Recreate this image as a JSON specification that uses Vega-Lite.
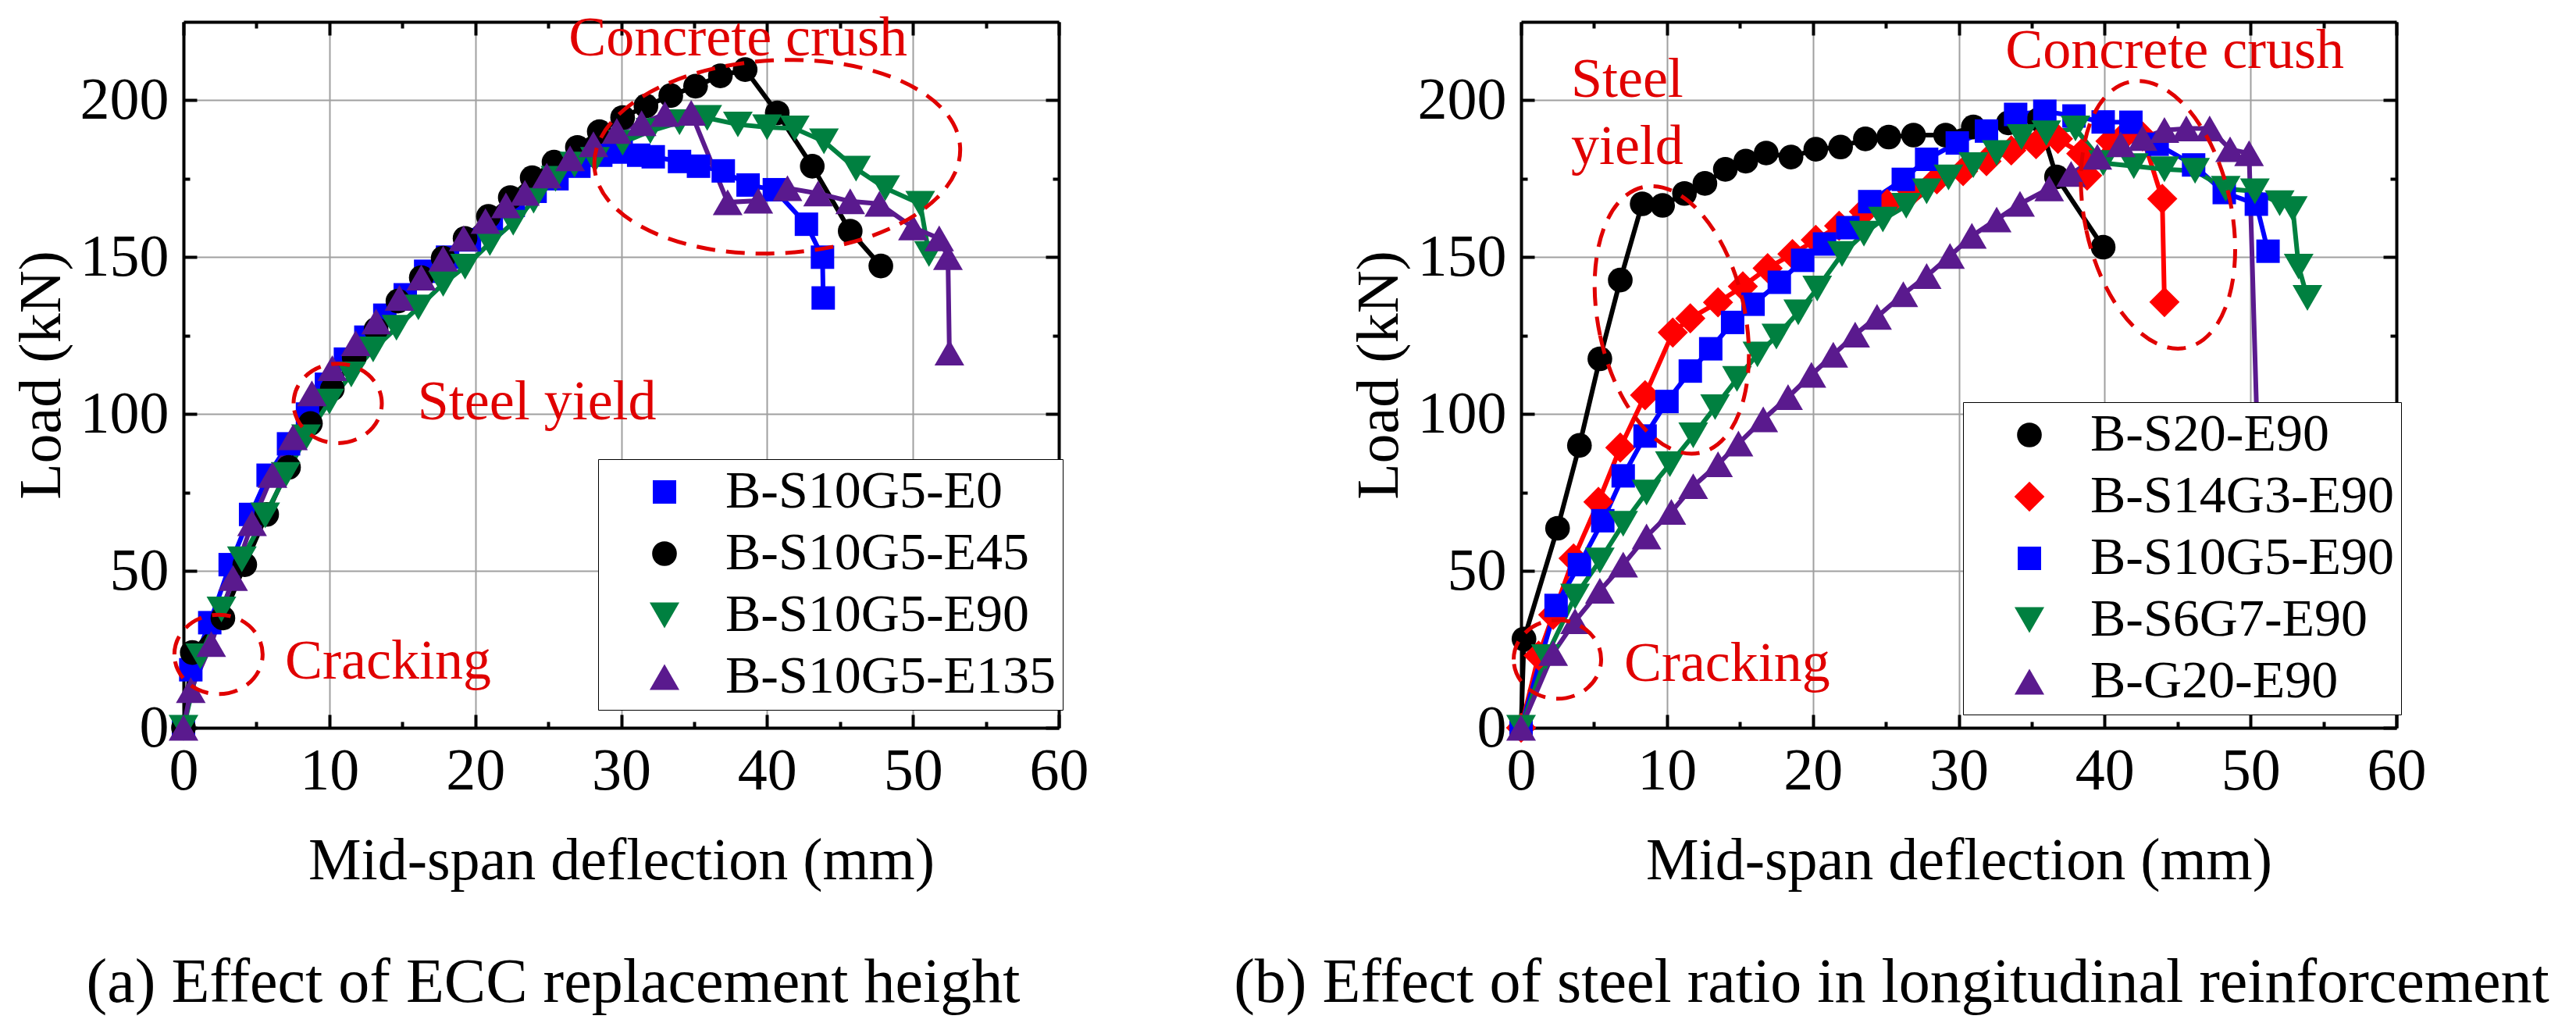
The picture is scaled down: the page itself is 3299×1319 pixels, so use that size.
{
 "$schema": "https://vega.github.io/schema/vega-lite/v6.json",
 "padding": {"left": 15, "top": 12, "right": 5, "bottom": 5},
 "background": "white",
 "spacing": 592,
 "bounds": "flush",
 "resolve": {"scale": {"color": "independent", "stroke": "independent", "shape": "independent", "size": "independent"}, "legend": {"color": "independent", "stroke": "independent", "shape": "independent", "size": "independent"}},
 "config": {
  "view": {"stroke": null},
  "font": "Liberation Serif",
  "legend": {"labelFont": "Liberation Serif", "labelColor": "black"},
  "style": {"guide-label": {"font": "Liberation Serif"}},
  "axis": {"domainColor": "black", "domainWidth": 4, "tickColor": "black", "tickWidth": 4, "labelFont": "Liberation Serif", "labelFontSize": 76, "labelColor": "black", "labelFlush": false, "labelOverlap": false, "titleFont": "Liberation Serif", "titleFontSize": 76, "titleFontWeight": "normal", "titleColor": "black", "gridColor": "#A0A0A0", "gridWidth": 2, "gridOpacity": 1}
 },
 "datasets": {
  "a": [
   {"s":"B-S10G5-E0","d":0,"p":0},{"s":"B-S10G5-E0","d":0.5,"p":18.5},{"s":"B-S10G5-E0","d":1.8,"p":33.5},{"s":"B-S10G5-E0","d":3.2,"p":52},{"s":"B-S10G5-E0","d":4.6,"p":68},{"s":"B-S10G5-E0","d":5.8,"p":80.5},{"s":"B-S10G5-E0","d":7.2,"p":90.5},{"s":"B-S10G5-E0","d":8.5,"p":100},{"s":"B-S10G5-E0","d":9.8,"p":109.5},{"s":"B-S10G5-E0","d":11.1,"p":117.5},{"s":"B-S10G5-E0","d":12.5,"p":124.5},{"s":"B-S10G5-E0","d":13.8,"p":131.5},{"s":"B-S10G5-E0","d":15.2,"p":138},{"s":"B-S10G5-E0","d":16.6,"p":145.5},{"s":"B-S10G5-E0","d":18.1,"p":150},{"s":"B-S10G5-E0","d":19.6,"p":155.5},{"s":"B-S10G5-E0","d":21.1,"p":161},{"s":"B-S10G5-E0","d":22.6,"p":166.5},{"s":"B-S10G5-E0","d":24.1,"p":171},{"s":"B-S10G5-E0","d":25.6,"p":175},{"s":"B-S10G5-E0","d":27.1,"p":179},{"s":"B-S10G5-E0","d":28.6,"p":182.5},{"s":"B-S10G5-E0","d":30,"p":183.5},{"s":"B-S10G5-E0","d":31.2,"p":182.5},{"s":"B-S10G5-E0","d":32.2,"p":182},{"s":"B-S10G5-E0","d":34,"p":180.5},{"s":"B-S10G5-E0","d":35.3,"p":179},{"s":"B-S10G5-E0","d":37,"p":177.5},{"s":"B-S10G5-E0","d":38.7,"p":173},{"s":"B-S10G5-E0","d":40.5,"p":171.5},{"s":"B-S10G5-E0","d":42.7,"p":160.5},{"s":"B-S10G5-E0","d":43.8,"p":150},{"s":"B-S10G5-E0","d":43.85,"p":137},
   {"s":"B-S10G5-E45","d":0,"p":0},{"s":"B-S10G5-E45","d":0.6,"p":24},{"s":"B-S10G5-E45","d":2.7,"p":35},{"s":"B-S10G5-E45","d":4.2,"p":52},{"s":"B-S10G5-E45","d":5.7,"p":68},{"s":"B-S10G5-E45","d":7.2,"p":83},{"s":"B-S10G5-E45","d":8.7,"p":97},{"s":"B-S10G5-E45","d":10.2,"p":108},{"s":"B-S10G5-E45","d":11.7,"p":118},{"s":"B-S10G5-E45","d":13.2,"p":127},{"s":"B-S10G5-E45","d":14.7,"p":136},{"s":"B-S10G5-E45","d":16.3,"p":143.5},{"s":"B-S10G5-E45","d":17.8,"p":149.7},{"s":"B-S10G5-E45","d":19.3,"p":156},{"s":"B-S10G5-E45","d":20.9,"p":163},{"s":"B-S10G5-E45","d":22.4,"p":169},{"s":"B-S10G5-E45","d":23.9,"p":175.3},{"s":"B-S10G5-E45","d":25.4,"p":180.3},{"s":"B-S10G5-E45","d":27,"p":185},{"s":"B-S10G5-E45","d":28.5,"p":190},{"s":"B-S10G5-E45","d":30.1,"p":194.5},{"s":"B-S10G5-E45","d":31.7,"p":198.2},{"s":"B-S10G5-E45","d":33.4,"p":201.5},{"s":"B-S10G5-E45","d":35.1,"p":204.5},{"s":"B-S10G5-E45","d":36.8,"p":207.8},{"s":"B-S10G5-E45","d":38.5,"p":209.8},{"s":"B-S10G5-E45","d":40.7,"p":196},{"s":"B-S10G5-E45","d":43.1,"p":179},{"s":"B-S10G5-E45","d":45.7,"p":158.3},{"s":"B-S10G5-E45","d":47.8,"p":147.2},
   {"s":"B-S10G5-E90","d":0,"p":0},{"s":"B-S10G5-E90","d":1.15,"p":22.8},{"s":"B-S10G5-E90","d":2.6,"p":37.7},{"s":"B-S10G5-E90","d":4,"p":53.7},{"s":"B-S10G5-E90","d":5.6,"p":67.7},{"s":"B-S10G5-E90","d":7,"p":80.6},{"s":"B-S10G5-E90","d":8.4,"p":92.6},{"s":"B-S10G5-E90","d":10,"p":104},{"s":"B-S10G5-E90","d":11.5,"p":112.6},{"s":"B-S10G5-E90","d":13,"p":120.6},{"s":"B-S10G5-E90","d":14.6,"p":127.5},{"s":"B-S10G5-E90","d":16.1,"p":134},{"s":"B-S10G5-E90","d":17.8,"p":141.5},{"s":"B-S10G5-E90","d":19.3,"p":147},{"s":"B-S10G5-E90","d":21,"p":154.5},{"s":"B-S10G5-E90","d":22.6,"p":161},{"s":"B-S10G5-E90","d":24,"p":168},{"s":"B-S10G5-E90","d":25.5,"p":175},{"s":"B-S10G5-E90","d":26.8,"p":179.5},{"s":"B-S10G5-E90","d":28.2,"p":181},{"s":"B-S10G5-E90","d":30.1,"p":186.5},{"s":"B-S10G5-E90","d":32,"p":190.2},{"s":"B-S10G5-E90","d":34,"p":193},{"s":"B-S10G5-E90","d":35.9,"p":194.4},{"s":"B-S10G5-E90","d":38,"p":192.3},{"s":"B-S10G5-E90","d":40,"p":191.4},{"s":"B-S10G5-E90","d":41.9,"p":191},{"s":"B-S10G5-E90","d":43.9,"p":186.9},{"s":"B-S10G5-E90","d":46.1,"p":178.2},{"s":"B-S10G5-E90","d":48.1,"p":172},{"s":"B-S10G5-E90","d":50.5,"p":167},{"s":"B-S10G5-E90","d":51.1,"p":151},
   {"s":"B-S10G5-E135","d":0,"p":0},{"s":"B-S10G5-E135","d":0.5,"p":12},{"s":"B-S10G5-E135","d":1.9,"p":26.7},{"s":"B-S10G5-E135","d":3.4,"p":47.7},{"s":"B-S10G5-E135","d":4.7,"p":65.2},{"s":"B-S10G5-E135","d":6.1,"p":80.6},{"s":"B-S10G5-E135","d":7.5,"p":92.6},{"s":"B-S10G5-E135","d":8.8,"p":106.6},{"s":"B-S10G5-E135","d":10.2,"p":114.6},{"s":"B-S10G5-E135","d":11.8,"p":122.6},{"s":"B-S10G5-E135","d":13.2,"p":129.5},{"s":"B-S10G5-E135","d":14.8,"p":137},{"s":"B-S10G5-E135","d":16.3,"p":143.5},{"s":"B-S10G5-E135","d":17.8,"p":149.5},{"s":"B-S10G5-E135","d":19.2,"p":156},{"s":"B-S10G5-E135","d":20.7,"p":161.5},{"s":"B-S10G5-E135","d":22.1,"p":166.5},{"s":"B-S10G5-E135","d":23.4,"p":170.5},{"s":"B-S10G5-E135","d":24.9,"p":176},{"s":"B-S10G5-E135","d":26.5,"p":181.5},{"s":"B-S10G5-E135","d":28.1,"p":186},{"s":"B-S10G5-E135","d":29.7,"p":190.2},{"s":"B-S10G5-E135","d":31.4,"p":192.7},{"s":"B-S10G5-E135","d":33,"p":195.6},{"s":"B-S10G5-E135","d":34.8,"p":196},{"s":"B-S10G5-E135","d":37.3,"p":167.5},{"s":"B-S10G5-E135","d":39.4,"p":168},{"s":"B-S10G5-E135","d":41.4,"p":172},{"s":"B-S10G5-E135","d":43.5,"p":170.3},{"s":"B-S10G5-E135","d":45.7,"p":167.8},{"s":"B-S10G5-E135","d":47.7,"p":167},{"s":"B-S10G5-E135","d":50,"p":159.5},{"s":"B-S10G5-E135","d":51.8,"p":156},{"s":"B-S10G5-E135","d":52.4,"p":150},{"s":"B-S10G5-E135","d":52.5,"p":119.6}
  ],
  "b": [
   {"s":"B-S20-E90","d":0,"p":0},{"s":"B-S20-E90","d":0.2,"p":28.3},{"s":"B-S20-E90","d":2.5,"p":63.6},{"s":"B-S20-E90","d":4,"p":90},{"s":"B-S20-E90","d":5.4,"p":117.6},{"s":"B-S20-E90","d":6.8,"p":142.7},{"s":"B-S20-E90","d":8.3,"p":167},{"s":"B-S20-E90","d":9.7,"p":166.5},{"s":"B-S20-E90","d":11.2,"p":170.3},{"s":"B-S20-E90","d":12.6,"p":173.5},{"s":"B-S20-E90","d":14,"p":178},{"s":"B-S20-E90","d":15.4,"p":180.6},{"s":"B-S20-E90","d":16.8,"p":183.2},{"s":"B-S20-E90","d":18.5,"p":181.9},{"s":"B-S20-E90","d":20.2,"p":184.4},{"s":"B-S20-E90","d":21.9,"p":185.1},{"s":"B-S20-E90","d":23.6,"p":187.7},{"s":"B-S20-E90","d":25.2,"p":188.3},{"s":"B-S20-E90","d":26.9,"p":188.9},{"s":"B-S20-E90","d":29.1,"p":188.9},{"s":"B-S20-E90","d":31,"p":191.5},{"s":"B-S20-E90","d":33.4,"p":192.8},{"s":"B-S20-E90","d":35.5,"p":193.9},{"s":"B-S20-E90","d":36.7,"p":175.6},{"s":"B-S20-E90","d":39.9,"p":153.2},
   {"s":"B-S14G3-E90","d":0,"p":0},{"s":"B-S14G3-E90","d":1.2,"p":23},{"s":"B-S14G3-E90","d":2.2,"p":36},{"s":"B-S14G3-E90","d":3.6,"p":54},{"s":"B-S14G3-E90","d":5.3,"p":72},{"s":"B-S14G3-E90","d":6.8,"p":89.3},{"s":"B-S14G3-E90","d":8.5,"p":106},{"s":"B-S14G3-E90","d":10.4,"p":126},{"s":"B-S14G3-E90","d":11.6,"p":130.5},{"s":"B-S14G3-E90","d":13.5,"p":135.6},{"s":"B-S14G3-E90","d":15.2,"p":140.7},{"s":"B-S14G3-E90","d":16.9,"p":146.5},{"s":"B-S14G3-E90","d":18.6,"p":151},{"s":"B-S14G3-E90","d":20.2,"p":155.5},{"s":"B-S14G3-E90","d":21.8,"p":160},{"s":"B-S14G3-E90","d":23.5,"p":164.5},{"s":"B-S14G3-E90","d":25.1,"p":167},{"s":"B-S14G3-E90","d":26.8,"p":171},{"s":"B-S14G3-E90","d":28.5,"p":174.8},{"s":"B-S14G3-E90","d":30.3,"p":177.4},{"s":"B-S14G3-E90","d":31.9,"p":180.6},{"s":"B-S14G3-E90","d":33.6,"p":184},{"s":"B-S14G3-E90","d":35.3,"p":186},{"s":"B-S14G3-E90","d":36.8,"p":187.7},{"s":"B-S14G3-E90","d":38.4,"p":183},{"s":"B-S14G3-E90","d":38.8,"p":176},{"s":"B-S14G3-E90","d":40.4,"p":187},{"s":"B-S14G3-E90","d":41.3,"p":188.5},{"s":"B-S14G3-E90","d":42.6,"p":188.5},{"s":"B-S14G3-E90","d":43.95,"p":168.6},{"s":"B-S14G3-E90","d":44.1,"p":135.7},
   {"s":"B-S10G5-E90","d":0,"p":0},{"s":"B-S10G5-E90","d":2.4,"p":39},{"s":"B-S10G5-E90","d":4,"p":52},{"s":"B-S10G5-E90","d":5.6,"p":66},{"s":"B-S10G5-E90","d":7,"p":80.3},{"s":"B-S10G5-E90","d":8.5,"p":93},{"s":"B-S10G5-E90","d":10,"p":104},{"s":"B-S10G5-E90","d":11.6,"p":113.7},{"s":"B-S10G5-E90","d":13,"p":120.8},{"s":"B-S10G5-E90","d":14.5,"p":129.2},{"s":"B-S10G5-E90","d":15.9,"p":135},{"s":"B-S10G5-E90","d":17.7,"p":142},{"s":"B-S10G5-E90","d":19.3,"p":149},{"s":"B-S10G5-E90","d":20.8,"p":154.2},{"s":"B-S10G5-E90","d":22.4,"p":159.4},{"s":"B-S10G5-E90","d":23.9,"p":167.7},{"s":"B-S10G5-E90","d":26.2,"p":174.8},{"s":"B-S10G5-E90","d":27.8,"p":181.2},{"s":"B-S10G5-E90","d":29.9,"p":186.4},{"s":"B-S10G5-E90","d":31.9,"p":190.2},{"s":"B-S10G5-E90","d":33.9,"p":195.5},{"s":"B-S10G5-E90","d":35.9,"p":196.5},{"s":"B-S10G5-E90","d":37.9,"p":195},{"s":"B-S10G5-E90","d":39.9,"p":193.1},{"s":"B-S10G5-E90","d":41.8,"p":193},{"s":"B-S10G5-E90","d":43.6,"p":186},{"s":"B-S10G5-E90","d":46.1,"p":179.4},{"s":"B-S10G5-E90","d":48.2,"p":170.6},{"s":"B-S10G5-E90","d":50.4,"p":166.9},{"s":"B-S10G5-E90","d":51.2,"p":151.9},
   {"s":"B-S6G7-E90","d":0,"p":0},{"s":"B-S6G7-E90","d":1.7,"p":22.5},{"s":"B-S6G7-E90","d":3.7,"p":41.8},{"s":"B-S6G7-E90","d":5.4,"p":53.3},{"s":"B-S6G7-E90","d":7,"p":65},{"s":"B-S6G7-E90","d":8.6,"p":75},{"s":"B-S6G7-E90","d":10.2,"p":84},{"s":"B-S6G7-E90","d":11.8,"p":93.2},{"s":"B-S6G7-E90","d":13.3,"p":102.2},{"s":"B-S6G7-E90","d":14.8,"p":111.2},{"s":"B-S6G7-E90","d":16.2,"p":119},{"s":"B-S6G7-E90","d":17.5,"p":124.7},{"s":"B-S6G7-E90","d":19,"p":132.4},{"s":"B-S6G7-E90","d":20.3,"p":140},{"s":"B-S6G7-E90","d":22,"p":151},{"s":"B-S6G7-E90","d":23.5,"p":157.5},{"s":"B-S6G7-E90","d":24.8,"p":162},{"s":"B-S6G7-E90","d":26.4,"p":166.4},{"s":"B-S6G7-E90","d":27.8,"p":171},{"s":"B-S6G7-E90","d":29.3,"p":175.4},{"s":"B-S6G7-E90","d":31,"p":179.3},{"s":"B-S6G7-E90","d":32.6,"p":183.2},{"s":"B-S6G7-E90","d":34.3,"p":188.3},{"s":"B-S6G7-E90","d":36,"p":189.5},{"s":"B-S6G7-E90","d":38,"p":191},{"s":"B-S6G7-E90","d":39.9,"p":180},{"s":"B-S6G7-E90","d":42,"p":179},{"s":"B-S6G7-E90","d":44.1,"p":178},{"s":"B-S6G7-E90","d":46.2,"p":177.5},{"s":"B-S6G7-E90","d":48.3,"p":171.8},{"s":"B-S6G7-E90","d":50.3,"p":171},{"s":"B-S6G7-E90","d":52,"p":167.2},{"s":"B-S6G7-E90","d":52.9,"p":165.3},{"s":"B-S6G7-E90","d":53.3,"p":147},{"s":"B-S6G7-E90","d":53.9,"p":137},
   {"s":"B-G20-E90","d":0,"p":0},{"s":"B-G20-E90","d":2.2,"p":23.8},{"s":"B-G20-E90","d":3.7,"p":34},{"s":"B-G20-E90","d":5.4,"p":43.7},{"s":"B-G20-E90","d":7,"p":52},{"s":"B-G20-E90","d":8.6,"p":61},{"s":"B-G20-E90","d":10.3,"p":68.8},{"s":"B-G20-E90","d":11.8,"p":77},{"s":"B-G20-E90","d":13.5,"p":84},{"s":"B-G20-E90","d":14.9,"p":90.6},{"s":"B-G20-E90","d":16.6,"p":98.3},{"s":"B-G20-E90","d":18.3,"p":105.4},{"s":"B-G20-E90","d":19.9,"p":112.5},{"s":"B-G20-E90","d":21.4,"p":118.9},{"s":"B-G20-E90","d":22.9,"p":125.3},{"s":"B-G20-E90","d":24.4,"p":131},{"s":"B-G20-E90","d":26.2,"p":138.2},{"s":"B-G20-E90","d":27.8,"p":144},{"s":"B-G20-E90","d":29.4,"p":150.4},{"s":"B-G20-E90","d":30.9,"p":156.8},{"s":"B-G20-E90","d":32.6,"p":162},{"s":"B-G20-E90","d":34.2,"p":167},{"s":"B-G20-E90","d":36.2,"p":171.9},{"s":"B-G20-E90","d":37.7,"p":176.5},{"s":"B-G20-E90","d":39.5,"p":182},{"s":"B-G20-E90","d":41.1,"p":186},{"s":"B-G20-E90","d":42.6,"p":188},{"s":"B-G20-E90","d":44.1,"p":190.5},{"s":"B-G20-E90","d":45.6,"p":191},{"s":"B-G20-E90","d":47.2,"p":191},{"s":"B-G20-E90","d":48.6,"p":184.4},{"s":"B-G20-E90","d":49.9,"p":183.1},{"s":"B-G20-E90","d":50.8,"p":40}
  ],
  "ta": [{"d":6.96,"p":15.7,"t":"Cracking"},{"d":16.04,"p":98.2,"t":"Steel yield"},{"d":26.4,"p":214.3,"t":"Concrete crush"}],
  "tb": [{"d":7.06,"p":14.9,"t":"Cracking"},{"d":3.42,"p":201,"t":"Steel"},{"d":3.42,"p":179.8,"t":"yield"},{"d":33.2,"p":210.3,"t":"Concrete crush"}],
  "ea": [{"d":2.4,"p":23.4},{"d":10.57,"p":103.4}],
  "eb": [{"d":40.7,"p":182}],
  "ec": [{"d":2.49,"p":21.8}],
  "ed": [{"d":10.33,"p":130},{"d":43.66,"p":163.5}]
 },
 "hconcat": [
  {
   "width": 1121, "height": 904,
   "title": {"text": "(a) Effect of ECC replacement height", "orient": "bottom", "anchor": "middle", "font": "Liberation Serif", "fontSize": 80, "fontWeight": "normal", "color": "black", "offset": 80, "dx": -87},
   "resolve": {"axis": {"x": "independent", "y": "independent"}},
   "layer": [
    {
     "data": {"name": "a"},
     "mark": {"type": "line", "strokeWidth": 6},
     "encoding": {
      "x": {"field": "d", "type": "quantitative", "scale": {"domain": [0, 60], "nice": false}, "axis": {"orient": "bottom", "values": [0,10,20,30,40,50,60], "tickSize": -17, "grid": true, "labelPadding": 35, "title": "Mid-span deflection (mm)", "titlePadding": 40}},
      "y": {"field": "p", "type": "quantitative", "scale": {"domain": [0, 225], "nice": false}, "axis": {"orient": "left", "values": [0,50,100,150,200], "tickSize": -17, "grid": true, "labelPadding": 36, "title": "Load (kN)", "titlePadding": 10}},
      "stroke": {"field": "s", "type": "nominal", "scale": {"domain": ["B-S10G5-E0","B-S10G5-E45","B-S10G5-E90","B-S10G5-E135","-"], "range": ["#0000FF","#000000","#008040","#5A1A8E","#FFFFFF"]},
       "legend": {"values": ["B-S10G5-E0","B-S10G5-E45","B-S10G5-E90","B-S10G5-E135"], "orient": "none", "legendX": 531, "legendY": 560, "title": null, "labelExpr": "' '", "labelFont": "Liberation Serif", "labelFontSize": 68, "labelLimit": 0, "labelOffset": 0, "symbolType": "M-1,0H6.2", "symbolSize": 1600, "symbolStrokeWidth": 6, "rowPadding": 11, "padding": 8, "strokeColor": "transparent", "fillColor": "transparent"}
      }
     }
    },
    {
     "data": {"name": "a"},
     "mark": {"type": "point", "filled": true, "opacity": 1},
     "encoding": {
      "x": {"field": "d", "type": "quantitative", "scale": {"domain": [0, 60], "nice": false}, "axis": {"orient": "bottom", "values": [5,15,25,35,45,55], "tickSize": -8, "domain": false, "grid": false, "labels": false, "title": null}},
      "y": {"field": "p", "type": "quantitative", "scale": {"domain": [0, 225], "nice": false}, "axis": {"orient": "left", "values": [25,75,125,175], "tickSize": -8, "domain": false, "grid": false, "labels": false, "title": null}},
      "color": {"field": "s", "type": "nominal", "scale": {"domain": ["B-S10G5-E0","B-S10G5-E45","B-S10G5-E90","B-S10G5-E135"], "range": ["#0000FF","#000000","#008040","#5A1A8E"]},
       "legend": {"orient": "none", "legendX": 531, "legendY": 560, "title": null, "labelFont": "Liberation Serif", "labelFontSize": 68, "labelColor": "black", "labelLimit": 0, "labelOffset": 44, "symbolOffset": 43, "rowPadding": 11, "padding": 8, "strokeColor": "black", "fillColor": "white"}
      },
      "shape": {"field": "s", "type": "nominal", "scale": {"domain": ["B-S10G5-E0","B-S10G5-E45","B-S10G5-E90","B-S10G5-E135"], "range": ["square","circle","triangle-down","triangle-up"]}},
      "size": {"field": "s", "type": "nominal", "scale": {"type": "ordinal", "domain": ["B-S10G5-E0","B-S10G5-E45","B-S10G5-E90","B-S10G5-E135"], "range": [900,1000,1450,1450]}}
     }
    },
    {
     "data": {"name": "ta"},
     "mark": {"type": "text", "align": "left", "baseline": "alphabetic", "font": "Liberation Serif", "fontSize": 72, "color": "#E00000"},
     "encoding": {
      "x": {"field": "d", "type": "quantitative", "scale": {"domain": [0, 60], "nice": false}, "axis": {"orient": "top", "values": [0,10,20,30,40,50,60], "tickSize": -17, "grid": false, "labels": false, "title": null}},
      "y": {"field": "p", "type": "quantitative", "scale": {"domain": [0, 225], "nice": false}, "axis": {"orient": "right", "values": [0,50,100,150,200], "tickSize": -17, "grid": false, "labels": false, "title": null}},
      "text": {"field": "t"}
     }
    },
    {
     "data": {"name": "ea"},
     "mark": {"type": "point", "shape": "M-1,0A1,0.9,0,1,1,1,0A1,0.9,0,1,1,-1,0Z", "size": 12769, "filled": false, "stroke": "#E00000", "strokeWidth": 5, "strokeDash": [24, 14], "opacity": 1},
     "encoding": {
      "x": {"field": "d", "type": "quantitative", "scale": {"domain": [0, 60], "nice": false}, "axis": {"orient": "top", "values": [5,15,25,35,45,55], "tickSize": -8, "domain": false, "grid": false, "labels": false, "title": null}},
      "y": {"field": "p", "type": "quantitative", "scale": {"domain": [0, 225], "nice": false}, "axis": {"orient": "right", "values": [25,75,125,175], "tickSize": -8, "domain": false, "grid": false, "labels": false, "title": null}}
     }
    },
    {
     "data": {"name": "eb"},
     "mark": {"type": "point", "shape": "M-1,0A1,0.527,0,1,1,1,0A1,0.527,0,1,1,-1,0Z", "size": 219961, "angle": -3, "filled": false, "stroke": "#E00000", "strokeWidth": 5, "strokeDash": [24, 14], "opacity": 1},
     "encoding": {
      "x": {"field": "d", "type": "quantitative", "scale": {"domain": [0, 60], "nice": false}, "axis": null},
      "y": {"field": "p", "type": "quantitative", "scale": {"domain": [0, 225], "nice": false}, "axis": null}
     }
    }
   ]
  },
  {
   "width": 1121, "height": 904,
   "title": {"text": "(b) Effect of steel ratio in longitudinal reinforcement", "orient": "bottom", "anchor": "middle", "font": "Liberation Serif", "fontSize": 80, "fontWeight": "normal", "color": "black", "offset": 80, "dx": -86},
   "resolve": {"axis": {"x": "independent", "y": "independent"}},
   "layer": [
    {
     "data": {"name": "b"},
     "mark": {"type": "line", "strokeWidth": 6},
     "encoding": {
      "x": {"field": "d", "type": "quantitative", "scale": {"domain": [0, 60], "nice": false}, "axis": {"orient": "bottom", "values": [0,10,20,30,40,50,60], "tickSize": -17, "grid": true, "labelPadding": 35, "title": "Mid-span deflection (mm)", "titlePadding": 40}},
      "y": {"field": "p", "type": "quantitative", "scale": {"domain": [0, 225], "nice": false}, "axis": {"orient": "left", "values": [0,50,100,150,200], "tickSize": -17, "grid": true, "labelPadding": 36, "title": "Load (kN)", "titlePadding": 10}},
      "stroke": {"field": "s", "type": "nominal", "scale": {"domain": ["B-S20-E90","B-S14G3-E90","B-S10G5-E90","B-S6G7-E90","B-G20-E90","-"], "range": ["#000000","#FF0000","#0000FF","#008040","#5A1A8E","#FFFFFF"]},
       "legend": {"values": ["B-S20-E90","B-S14G3-E90","B-S10G5-E90","B-S6G7-E90","B-G20-E90"], "orient": "none", "legendX": 566, "legendY": 487, "title": null, "labelExpr": "' '", "labelFont": "Liberation Serif", "labelFontSize": 68, "labelLimit": 0, "labelOffset": 0, "symbolType": "M-1,0H6.2", "symbolSize": 1600, "symbolStrokeWidth": 6, "rowPadding": 11, "padding": 8, "strokeColor": "transparent", "fillColor": "transparent"}
      }
     }
    },
    {
     "data": {"name": "b"},
     "mark": {"type": "point", "filled": true, "opacity": 1},
     "encoding": {
      "x": {"field": "d", "type": "quantitative", "scale": {"domain": [0, 60], "nice": false}, "axis": {"orient": "bottom", "values": [5,15,25,35,45,55], "tickSize": -8, "domain": false, "grid": false, "labels": false, "title": null}},
      "y": {"field": "p", "type": "quantitative", "scale": {"domain": [0, 225], "nice": false}, "axis": {"orient": "left", "values": [25,75,125,175], "tickSize": -8, "domain": false, "grid": false, "labels": false, "title": null}},
      "color": {"field": "s", "type": "nominal", "scale": {"domain": ["B-S20-E90","B-S14G3-E90","B-S10G5-E90","B-S6G7-E90","B-G20-E90"], "range": ["#000000","#FF0000","#0000FF","#008040","#5A1A8E"]},
       "legend": {"orient": "none", "legendX": 566, "legendY": 487, "title": null, "labelFont": "Liberation Serif", "labelFontSize": 68, "labelColor": "black", "labelLimit": 0, "labelOffset": 44, "symbolOffset": 43, "rowPadding": 11, "padding": 8, "strokeColor": "black", "fillColor": "white"}
      },
      "shape": {"field": "s", "type": "nominal", "scale": {"domain": ["B-S20-E90","B-S14G3-E90","B-S10G5-E90","B-S6G7-E90","B-G20-E90"], "range": ["circle","diamond","square","triangle-down","triangle-up"]}},
      "size": {"field": "s", "type": "nominal", "scale": {"type": "ordinal", "domain": ["B-S20-E90","B-S14G3-E90","B-S10G5-E90","B-S6G7-E90","B-G20-E90"], "range": [1000,1500,900,1450,1450]}}
     }
    },
    {
     "data": {"name": "tb"},
     "mark": {"type": "text", "align": "left", "baseline": "alphabetic", "font": "Liberation Serif", "fontSize": 72, "color": "#E00000"},
     "encoding": {
      "x": {"field": "d", "type": "quantitative", "scale": {"domain": [0, 60], "nice": false}, "axis": {"orient": "top", "values": [0,10,20,30,40,50,60], "tickSize": -17, "grid": false, "labels": false, "title": null}},
      "y": {"field": "p", "type": "quantitative", "scale": {"domain": [0, 225], "nice": false}, "axis": {"orient": "right", "values": [0,50,100,150,200], "tickSize": -17, "grid": false, "labels": false, "title": null}},
      "text": {"field": "t"}
     }
    },
    {
     "data": {"name": "ec"},
     "mark": {"type": "point", "shape": "M-1,0A1,0.9,0,1,1,1,0A1,0.9,0,1,1,-1,0Z", "size": 12544, "filled": false, "stroke": "#E00000", "strokeWidth": 5, "strokeDash": [24, 14], "opacity": 1},
     "encoding": {
      "x": {"field": "d", "type": "quantitative", "scale": {"domain": [0, 60], "nice": false}, "axis": {"orient": "top", "values": [5,15,25,35,45,55], "tickSize": -8, "domain": false, "grid": false, "labels": false, "title": null}},
      "y": {"field": "p", "type": "quantitative", "scale": {"domain": [0, 225], "nice": false}, "axis": {"orient": "right", "values": [25,75,125,175], "tickSize": -8, "domain": false, "grid": false, "labels": false, "title": null}}
     }
    },
    {
     "data": {"name": "ed"},
     "mark": {"type": "point", "shape": "M-0.54,0A0.54,1,0,1,1,0.54,0A0.54,1,0,1,1,-0.54,0Z", "size": 121104, "angle": -12, "filled": false, "stroke": "#E00000", "strokeWidth": 5, "strokeDash": [24, 14], "opacity": 1},
     "encoding": {
      "x": {"field": "d", "type": "quantitative", "scale": {"domain": [0, 60], "nice": false}, "axis": null},
      "y": {"field": "p", "type": "quantitative", "scale": {"domain": [0, 225], "nice": false}, "axis": null}
     }
    }
   ]
  }
 ]
}
